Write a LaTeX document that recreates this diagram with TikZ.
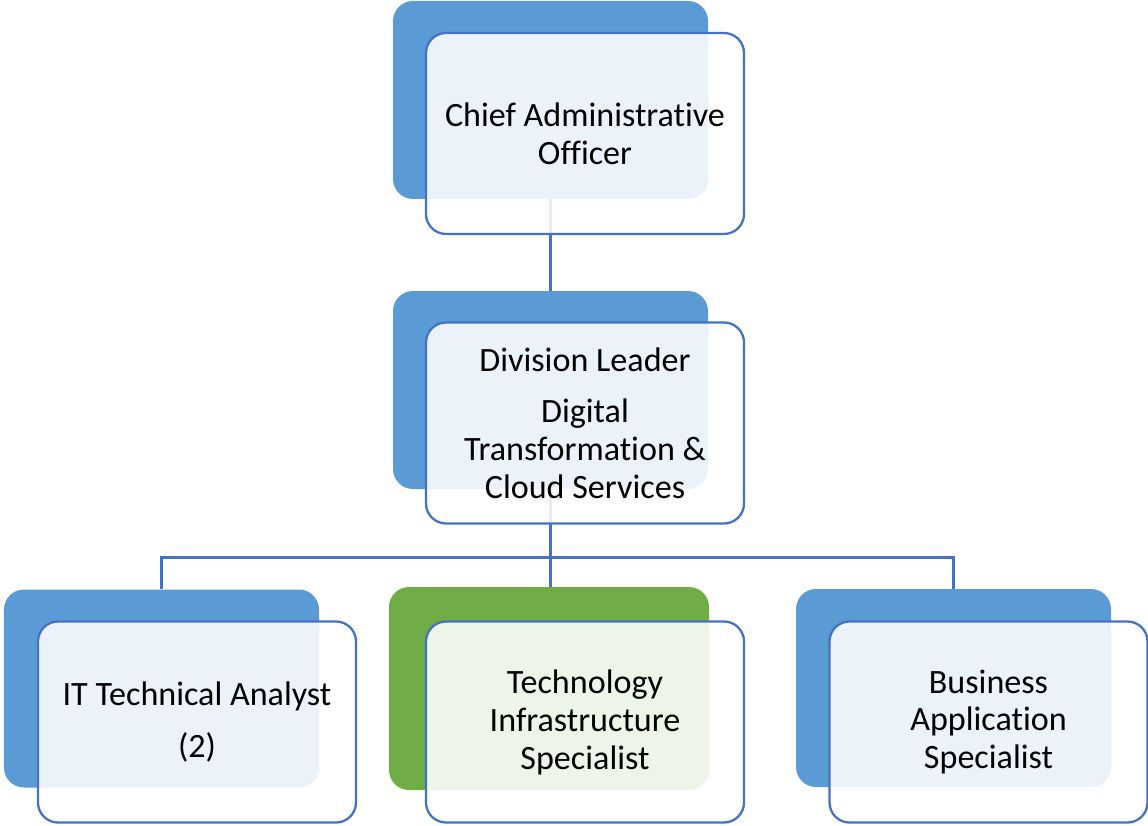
\documentclass[tikz,border=0pt]{standalone}
\usepackage{fontspec}
\setmainfont[Ligatures=CommonOff]{Carlito}
\definecolor{backblue}{HTML}{5B9BD5}
\definecolor{backgreen}{HTML}{70AD47}
\definecolor{lineblue}{HTML}{4472C4}
\begin{document}
\begin{tikzpicture}[
    back/.style={rounded corners=0.4cm, fill=backblue, minimum width=6.3cm, minimum height=3.96cm, inner sep=0pt},
    front/.style={rounded corners=0.4cm, draw=lineblue, line width=1.3pt, fill=white, fill opacity=0.88, text opacity=1,
      minimum width=6.36cm, minimum height=4.02cm, inner sep=0pt, align=center, font=\fontsize{19.4}{21.6}\selectfont},
    conn/.style={draw=lineblue, line width=1.3pt}]
  \useasboundingbox (0,0) rectangle (22.96,16.5);
         \node [back] (CB) at (11.01, 14.5) {};
         \node [back] (DB) at (11.01, 8.7) {};
         \node [back] (LB) at (3.23, 2.73) {};
         \node [back, fill=backgreen, minimum width=6.4cm, minimum height=4.06cm] (MB) at (10.98, 2.73) {};
         \node [back] (RB) at (19.07, 2.74) {};
         \draw [conn] (CB) -- (DB);
         \draw [conn] (DB.south) -- ++(0, -1.36) coordinate (bus);
         \draw [conn] (bus) -| (LB.north);
         \draw [conn] (bus) -| (RB.north);
         \draw [conn] (bus) -- (bus |- MB.north);
         \node [front] (CF) at (11.7, 13.83) {Chief Administrative\\Officer};
         \node [front] (DF) at (11.7, 8.04) {Division Leader\\[0.26cm]Digital\\Transformation \&\\Cloud Services};
         \node [front] (LF) at (3.94, 2.06) {IT Technical Analyst\\[0.3cm](2)};
         \node [front] (MF) at (11.7, 2.06) {Technology\\Infrastructure\\Specialist};
         \node [front] (RF) at (19.77, 2.06) {Business\\Application\\Specialist};
\end{tikzpicture}
\end{document}
